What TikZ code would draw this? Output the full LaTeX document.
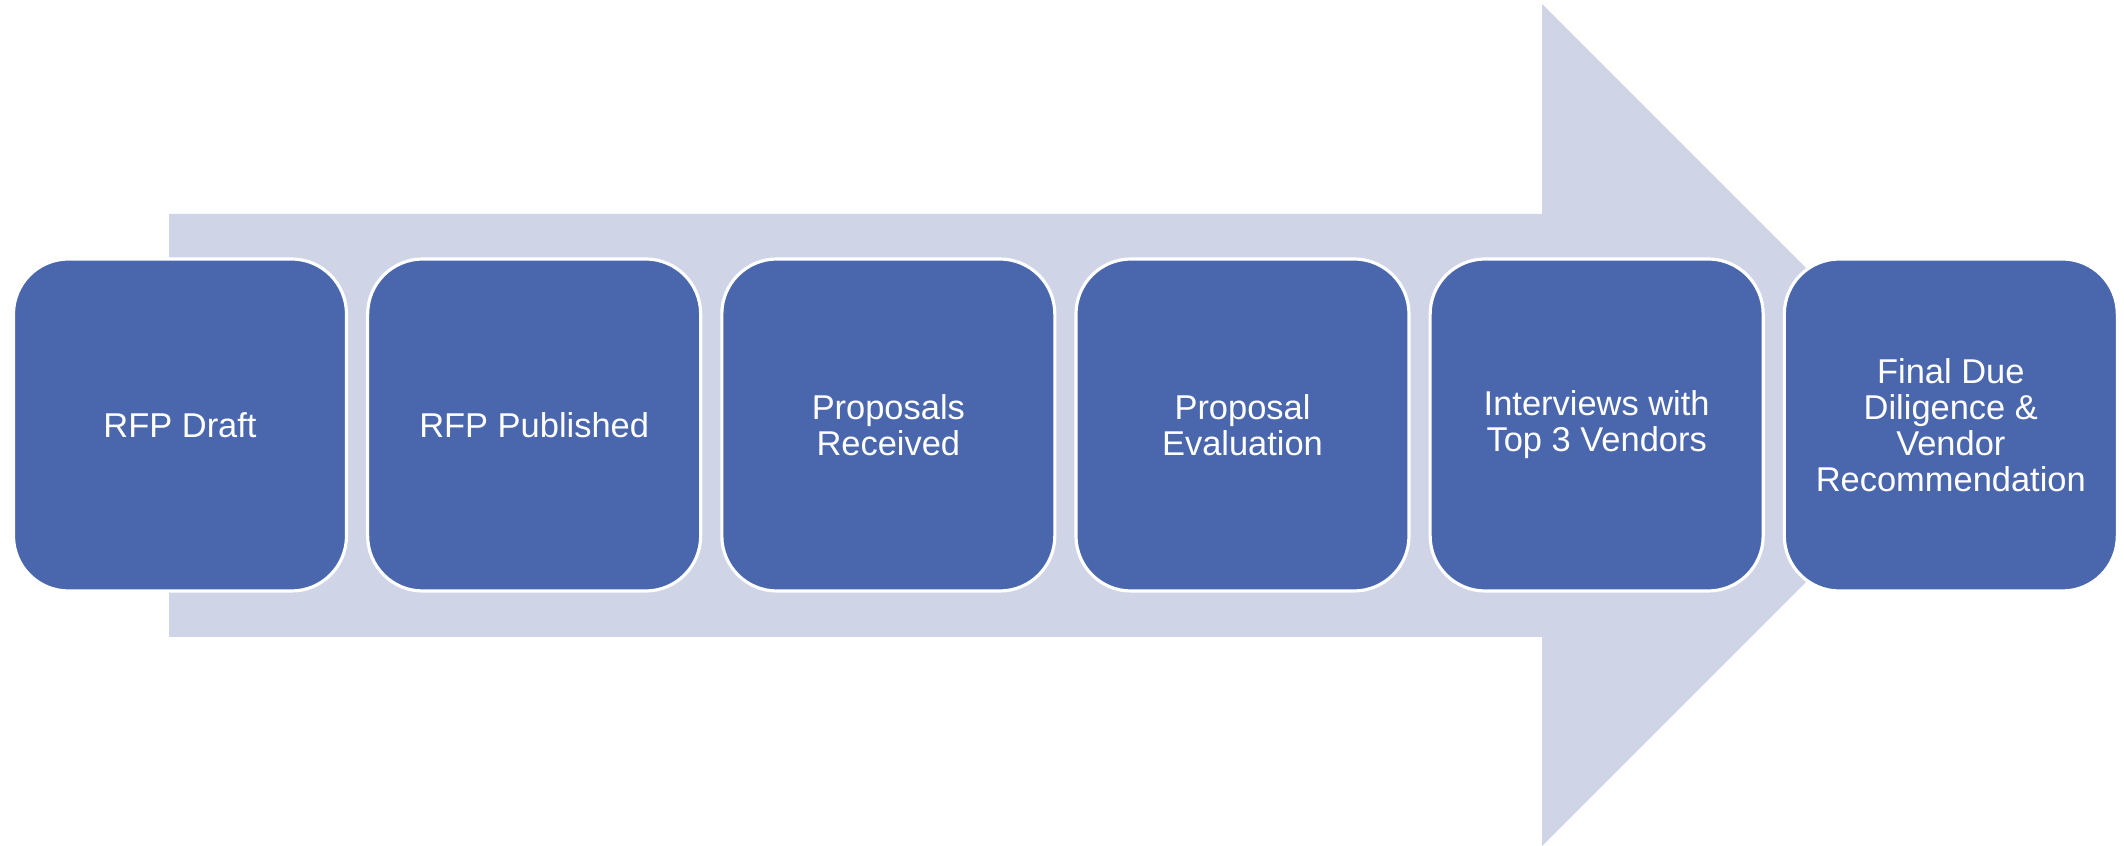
\documentclass[tikz,border=0pt]{standalone}
\usepackage{fontspec}
\setmainfont{Liberation Sans}
\usepackage{tikz}
\usetikzlibrary{
    positioning,           % Relative positioning
    shapes.geometric       % Geometric shapes
}
\definecolor{StageBlue}{RGB}{74, 103, 173}
\definecolor{ArrowGray}{RGB}{207, 213, 230}

\tikzset{
    stage/.style={
        draw=white, line width=0.9pt, fill=StageBlue,
        rounded corners=0.55cm,
        minimum width=3.33cm, minimum height=3.32cm,
        text=white, align=center,
        font=\fontsize{9.8}{10.3}\selectfont
    }
}

\begin{document}
\begin{tikzpicture}
    \useasboundingbox (0,0) rectangle (21.24,8.46);

    % Big arrow behind the stages
    \fill[ArrowGray] (1.69,2.09) -- (15.42,2.09) -- (15.42,0) -- (19.63,4.21)
        -- (15.42,8.42) -- (15.42,6.32) -- (1.69,6.32) -- cycle;

    % Stages
    \node[stage] (draft) at (1.80,4.21) {RFP Draft};
    \node[stage, right=0.18cm of draft] (published) {RFP Published};
    \node[stage, right=0.18cm of published] (received) {Proposals\\Received};
    \node[stage, right=0.18cm of received] (evaluation) {Proposal\\Evaluation};
    \node[stage, right=0.18cm of evaluation] (interviews) {Interviews with\\Top 3 Vendors};
    \node[stage, right=0.18cm of interviews] (final) {Final Due\\Diligence \&\\Vendor\\Recommendation};
\end{tikzpicture}
\end{document}
